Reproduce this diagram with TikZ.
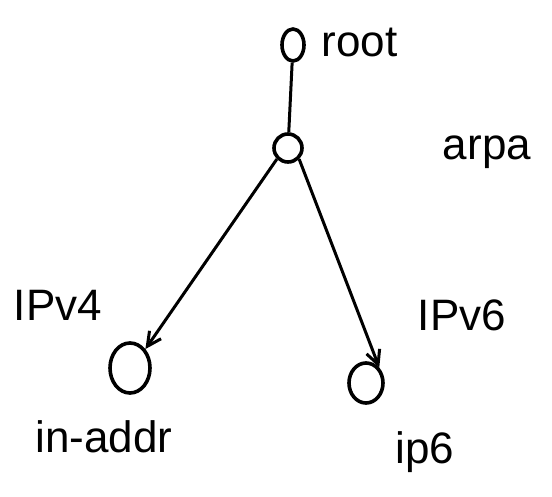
\documentclass[tikz,border=0pt]{standalone}
\usepackage{fontspec}
\setmainfont{Liberation Sans}
\usetikzlibrary{arrows.meta,shapes.geometric}
\begin{document}
\begin{tikzpicture}[x=1pt,y=-1pt,
  vert/.style={draw,line width=3.6pt,inner sep=0pt},
  lbl/.style={font=\fontsize{44}{48}\selectfont},
  edge/.style={line width=3pt},
  arr/.style={edge,-{Straight Barb[length=14pt,width=14pt,line width=3pt]}}]
\useasboundingbox (0,0) rectangle (552,497);
\node[vert,ellipse,minimum width=22pt,minimum height=32pt] (root) at (293,45) {};
\node[vert,circle,minimum size=28pt] (arpa) at (288,148) {};
\node[vert,ellipse,minimum width=40pt,minimum height=50pt] (inaddr) at (130,368) {};
\node[vert,ellipse,minimum width=34pt,minimum height=40pt] (ip6) at (366,383) {};
\node[lbl,anchor=west] (rootl) at (318,42) {root};
\node[lbl] (arpal) at (487,152) {arpa};
\node[lbl] (ipv4) at (58,305) {IPv4};
\node[lbl] (ipv6) at (462,315) {IPv6};
\node[lbl] (inaddrl) at (104,437) {in-addr};
\node[lbl] (ip6l) at (425,452) {ip6};
\draw[edge] (root) -- (arpa);
\draw[arr] (arpa.south west) -- (inaddr.north east);
\draw[arr] (arpa.south east) -- (ip6.north east);
\end{tikzpicture}
\end{document}
